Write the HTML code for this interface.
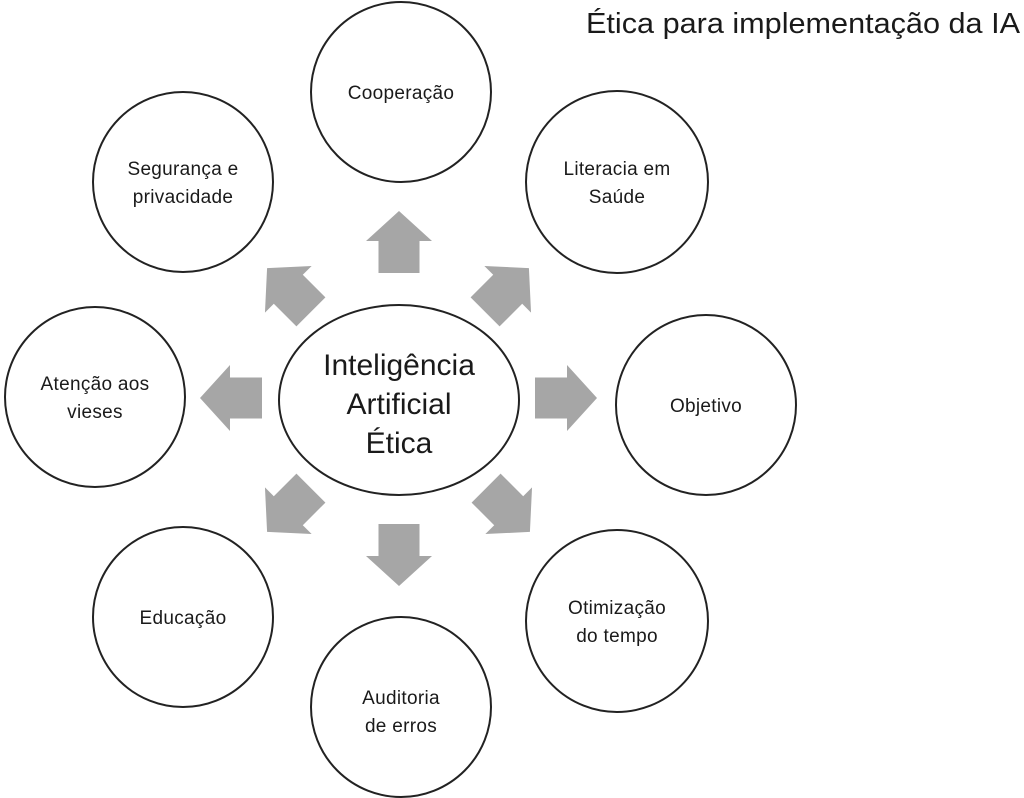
<!DOCTYPE html>
<html><head><meta charset="utf-8"><style>
html,body{margin:0;padding:0;background:#fff}
svg{display:block}
text{font-family:"Liberation Sans",Arial,sans-serif;fill:#1a1a1a}
</style></head><body>
<svg width="1024" height="798" viewBox="0 0 1024 798" xmlns="http://www.w3.org/2000/svg">
<defs>
<polygon id="ar" points="0,-31 33,-1 20.5,-1 20.5,31 -20.5,31 -20.5,-1 -33,-1" fill="#a6a6a6"/>
</defs>
<text x="586" y="33" font-size="29" textLength="434" lengthAdjust="spacingAndGlyphs">Ética para implementação da IA</text>
<g fill="#fff" stroke="#222" stroke-width="2">
<ellipse cx="399" cy="400" rx="120" ry="95"/>
<circle cx="401" cy="92" r="90"/>
<circle cx="183" cy="182" r="90"/>
<circle cx="617" cy="182" r="91"/>
<circle cx="95" cy="397" r="90"/>
<circle cx="706" cy="405" r="90"/>
<circle cx="183" cy="617" r="90"/>
<circle cx="617" cy="621" r="91"/>
<circle cx="401" cy="707" r="90"/>
</g>
<use href="#ar" transform="translate(399,242)"/>
<use href="#ar" transform="translate(399,555) rotate(180)"/>
<use href="#ar" transform="translate(231,398) rotate(-90)"/>
<use href="#ar" transform="translate(566,398) rotate(90)"/>
<use href="#ar" transform="translate(289,290) rotate(-45)"/>
<use href="#ar" transform="translate(507,290) rotate(45)"/>
<use href="#ar" transform="translate(289,510) rotate(-135)"/>
<use href="#ar" transform="translate(508,510) rotate(135)"/>
<g font-size="30" text-anchor="middle">
<text x="399" y="375">Inteligência</text>
<text x="399" y="414">Artificial</text>
<text x="399" y="453">Ética</text>
</g>
<g font-size="19" text-anchor="middle" letter-spacing="0.3">
<text x="401" y="99">Cooperação</text>
<text x="183" y="175">Segurança e</text>
<text x="183" y="203">privacidade</text>
<text x="617" y="175">Literacia em</text>
<text x="617" y="203">Saúde</text>
<text x="95" y="390">Atenção aos</text>
<text x="95" y="418">vieses</text>
<text x="706" y="412">Objetivo</text>
<text x="183" y="624">Educação</text>
<text x="617" y="614">Otimização</text>
<text x="617" y="642">do tempo</text>
<text x="401" y="704">Auditoria</text>
<text x="401" y="732">de erros</text>
</g>
</svg>
</body></html>
